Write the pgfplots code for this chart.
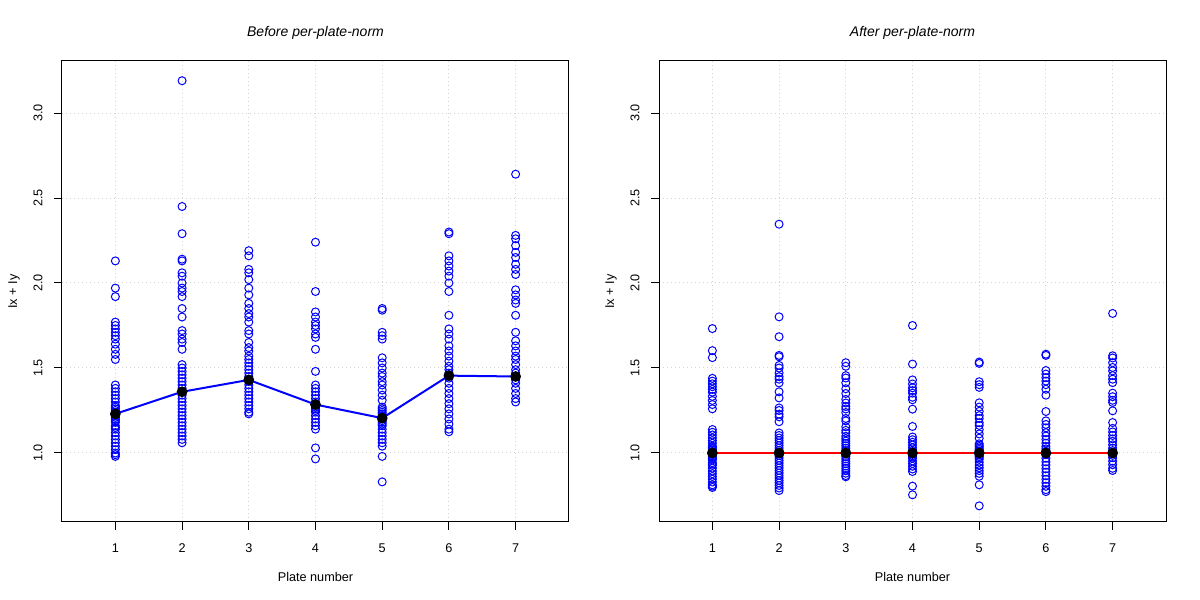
\documentclass[border=0pt]{standalone}
\usepackage{pgfplots}
\pgfplotsset{compat=1.18}
\usepackage{fontspec}
\setmainfont{Liberation Sans}
\definecolor{rblue}{RGB}{0,0,255}
\definecolor{rgrid}{RGB}{211,211,211}
\pgfplotsset{
  rstyle/.style={
    scale only axis,
    width=380.25pt, height=345.75pt,
    xmin=0.2, xmax=7.8, ymin=0.594, ymax=3.306,
    xtick={1,2,3,4,5,6,7},
    ytick={1,1.5,2,2.5,3},
    axis line style={line width=0.75pt, black},
    tick style={line width=0.75pt, black},
    tick align=outside,
    major tick length=6pt,
    xtick pos=bottom, ytick pos=left,
    grid=major,
    major grid style={rgrid, line width=0.75pt, dash pattern=on 0.75pt off 2.25pt},
    /pgf/number format/assume math mode=true,
    yticklabel={\pgfmathprintnumber[fixed,fixed zerofill,precision=1]{\tick}},
    xticklabel style={font=\fontsize{9.5}{11}\selectfont, anchor=center, yshift=-13.5pt},
    yticklabel style={font=\fontsize{9.5}{11}\selectfont, rotate=90, anchor=center, yshift=12pt},
    title style={font=\fontsize{10.5}{12}\selectfont\itshape, at={(axis description cs:0.5,1)}, anchor=center, yshift=15pt},
    xlabel style={font=\fontsize{9.5}{11}\selectfont, at={(axis description cs:0.5,0)}, anchor=center, yshift=-41.25pt},
    ylabel style={font=\fontsize{9.5}{11}\selectfont, at={(axis description cs:-0.0947,0.5)}, anchor=center},
    xlabel={Plate number}, ylabel={Ix + Iy},
    clip=false,
  },
  pts/.style={only marks, mark=o, mark size=3pt, rblue, mark options={line width=0.75pt}},
  means/.style={only marks, mark=*, mark size=3.4pt, black, mark options={line width=1.2pt, fill=black}},
}
\begin{document}
\begin{tikzpicture}
\useasboundingbox (0,0) rectangle (900pt,450pt);
% ---------------- Left panel ----------------
\begin{axis}[rstyle, at={(46.5pt,58.5pt)}, anchor=south west, title={Before per-plate-norm}]
\addplot[pts] coordinates {
(1,2.13)(1,1.97)(1,1.92)(1,1.77)(1,1.75)(1,1.73)(1,1.71)(1,1.69)(1,1.67)(1,1.64)(1,1.61)(1,1.58)(1,1.55)
(1,1.40)(1,1.38)(1,1.36)(1,1.34)(1,1.32)(1,1.30)(1,1.28)(1,1.27)(1,1.26)(1,1.25)(1,1.24)(1,1.23)(1,1.22)
(1,1.21)(1,1.20)(1,1.19)(1,1.18)(1,1.16)(1,1.15)(1,1.14)(1,1.12)(1,1.10)(1,1.08)(1,1.06)(1,1.04)(1,1.02)
(1,1.00)(1,0.99)(1,0.98)
(2,3.19)(2,2.45)(2,2.29)(2,2.14)(2,2.13)(2,2.06)(2,2.04)(2,2.00)(2,1.97)(2,1.95)(2,1.92)(2,1.85)(2,1.80)
(2,1.72)(2,1.70)(2,1.67)(2,1.65)(2,1.61)(2,1.52)(2,1.50)(2,1.48)(2,1.46)(2,1.44)(2,1.42)(2,1.40)(2,1.38)
(2,1.36)(2,1.34)(2,1.32)(2,1.30)(2,1.28)(2,1.26)(2,1.24)(2,1.22)(2,1.20)(2,1.18)(2,1.16)(2,1.14)(2,1.12)
(2,1.10)(2,1.08)(2,1.06)
(3,2.19)(3,2.16)(3,2.08)(3,2.06)(3,2.02)(3,1.97)(3,1.93)(3,1.88)(3,1.85)(3,1.82)(3,1.80)(3,1.77)(3,1.72)
(3,1.70)(3,1.65)(3,1.62)(3,1.60)(3,1.57)(3,1.55)(3,1.53)(3,1.51)(3,1.49)(3,1.47)(3,1.45)(3,1.43)(3,1.42)
(3,1.40)(3,1.38)(3,1.36)(3,1.34)(3,1.32)(3,1.30)(3,1.28)(3,1.26)(3,1.24)(3,1.23)
(4,2.24)(4,1.95)(4,1.83)(4,1.80)(4,1.77)(4,1.75)(4,1.73)(4,1.70)(4,1.68)(4,1.61)(4,1.48)(4,1.40)(4,1.38)
(4,1.36)(4,1.34)(4,1.32)(4,1.30)(4,1.29)(4,1.28)(4,1.27)(4,1.26)(4,1.25)(4,1.24)(4,1.22)(4,1.20)(4,1.18)
(4,1.16)(4,1.14)(4,1.03)(4,0.965)
(5,1.85)(5,1.84)(5,1.71)(5,1.69)(5,1.67)(5,1.56)(5,1.53)(5,1.50)(5,1.47)(5,1.45)(5,1.42)(5,1.40)(5,1.37)
(5,1.34)(5,1.31)(5,1.27)(5,1.26)(5,1.25)(5,1.24)(5,1.23)(5,1.22)(5,1.21)(5,1.20)(5,1.19)(5,1.18)(5,1.17)
(5,1.16)(5,1.14)(5,1.12)(5,1.10)(5,1.08)(5,1.06)(5,1.04)(5,0.98)(5,0.83)
(6,2.30)(6,2.29)(6,2.16)(6,2.13)(6,2.10)(6,2.07)(6,2.04)(6,2.00)(6,1.95)(6,1.81)(6,1.73)(6,1.70)(6,1.67)
(6,1.63)(6,1.60)(6,1.57)(6,1.54)(6,1.51)(6,1.49)(6,1.47)(6,1.455)(6,1.44)(6,1.41)(6,1.38)(6,1.35)(6,1.32)
(6,1.29)(6,1.26)(6,1.23)(6,1.20)(6,1.17)(6,1.14)(6,1.125)
(7,2.64)(7,2.28)(7,2.26)(7,2.22)(7,2.18)(7,2.15)(7,2.11)(7,2.08)(7,2.05)(7,1.96)(7,1.93)(7,1.90)(7,1.88)
(7,1.81)(7,1.71)(7,1.66)(7,1.63)(7,1.60)(7,1.57)(7,1.55)(7,1.52)(7,1.49)(7,1.47)(7,1.45)(7,1.43)(7,1.41)
(7,1.38)(7,1.35)(7,1.32)(7,1.30)
};
\addplot[rblue, line width=1.5pt, no marks] coordinates {(1,1.23)(2,1.36)(3,1.43)(4,1.285)(5,1.205)(6,1.455)(7,1.45)};
\addplot[means] coordinates {(1,1.23)(2,1.36)(3,1.43)(4,1.285)(5,1.205)(6,1.455)(7,1.45)};
\end{axis}
% ---------------- Right panel ----------------
\begin{axis}[rstyle, at={(494.25pt,58.5pt)}, anchor=south west, title={After per-plate-norm}]
\addplot[pts] coordinates {
(1,1.732)(1,1.602)(1,1.561)(1,1.439)(1,1.423)(1,1.407)(1,1.390)(1,1.374)(1,1.358)(1,1.333)(1,1.309)(1,1.285)
(1,1.260)(1,1.138)(1,1.122)(1,1.106)(1,1.089)(1,1.073)(1,1.057)(1,1.041)(1,1.033)(1,1.024)(1,1.016)(1,1.008)
(1,1.000)(1,0.992)(1,0.984)(1,0.976)(1,0.967)(1,0.959)(1,0.943)(1,0.935)(1,0.927)(1,0.911)(1,0.894)(1,0.878)
(1,0.862)(1,0.846)(1,0.829)(1,0.813)(1,0.805)(1,0.797)
(2,2.346)(2,1.801)(2,1.684)(2,1.574)(2,1.566)(2,1.515)(2,1.500)(2,1.471)(2,1.449)(2,1.434)(2,1.412)(2,1.360)
(2,1.324)(2,1.265)(2,1.250)(2,1.228)(2,1.213)(2,1.184)(2,1.118)(2,1.103)(2,1.088)(2,1.074)(2,1.059)(2,1.044)
(2,1.029)(2,1.015)(2,1.000)(2,0.985)(2,0.971)(2,0.956)(2,0.941)(2,0.926)(2,0.912)(2,0.897)(2,0.882)(2,0.868)
(2,0.853)(2,0.838)(2,0.824)(2,0.809)(2,0.794)(2,0.779)
(3,1.531)(3,1.510)(3,1.455)(3,1.441)(3,1.413)(3,1.378)(3,1.350)(3,1.315)(3,1.294)(3,1.273)(3,1.259)(3,1.238)
(3,1.203)(3,1.189)(3,1.154)(3,1.133)(3,1.119)(3,1.098)(3,1.084)(3,1.070)(3,1.056)(3,1.042)(3,1.028)(3,1.014)
(3,1.000)(3,0.993)(3,0.979)(3,0.965)(3,0.951)(3,0.937)(3,0.923)(3,0.909)(3,0.895)(3,0.881)(3,0.867)(3,0.860)
(4,1.750)(4,1.523)(4,1.430)(4,1.406)(4,1.383)(4,1.367)(4,1.352)(4,1.328)(4,1.313)(4,1.258)(4,1.156)(4,1.094)
(4,1.078)(4,1.063)(4,1.047)(4,1.031)(4,1.016)(4,1.008)(4,1.000)(4,0.992)(4,0.984)(4,0.977)(4,0.969)(4,0.953)
(4,0.938)(4,0.922)(4,0.906)(4,0.891)(4,0.805)(4,0.754)
(5,1.535)(5,1.527)(5,1.419)(5,1.402)(5,1.386)(5,1.295)(5,1.270)(5,1.245)(5,1.220)(5,1.203)(5,1.178)(5,1.162)
(5,1.137)(5,1.112)(5,1.087)(5,1.054)(5,1.046)(5,1.037)(5,1.029)(5,1.021)(5,1.012)(5,1.004)(5,0.996)(5,0.988)
(5,0.979)(5,0.971)(5,0.963)(5,0.946)(5,0.929)(5,0.913)(5,0.896)(5,0.880)(5,0.863)(5,0.813)(5,0.689)
(6,1.581)(6,1.574)(6,1.485)(6,1.464)(6,1.443)(6,1.423)(6,1.402)(6,1.375)(6,1.340)(6,1.244)(6,1.189)(6,1.168)
(6,1.148)(6,1.120)(6,1.100)(6,1.079)(6,1.058)(6,1.038)(6,1.024)(6,1.010)(6,1.000)(6,0.990)(6,0.969)(6,0.948)
(6,0.928)(6,0.907)(6,0.887)(6,0.866)(6,0.845)(6,0.825)(6,0.804)(6,0.784)(6,0.773)
(7,1.821)(7,1.572)(7,1.559)(7,1.531)(7,1.503)(7,1.483)(7,1.455)(7,1.434)(7,1.414)(7,1.352)(7,1.331)(7,1.310)
(7,1.297)(7,1.248)(7,1.179)(7,1.145)(7,1.124)(7,1.103)(7,1.083)(7,1.069)(7,1.048)(7,1.028)(7,1.014)(7,1.000)
(7,0.986)(7,0.972)(7,0.952)(7,0.931)(7,0.910)(7,0.897)
};
\addplot[red, line width=0.9pt, no marks] coordinates {(1,1)(2,1)(3,1)(4,1)(5,1)(6,1)(7,1)};
\addplot[means] coordinates {(1,1)(2,1)(3,1)(4,1)(5,1)(6,1)(7,1)};
\end{axis}
\end{tikzpicture}
\end{document}
